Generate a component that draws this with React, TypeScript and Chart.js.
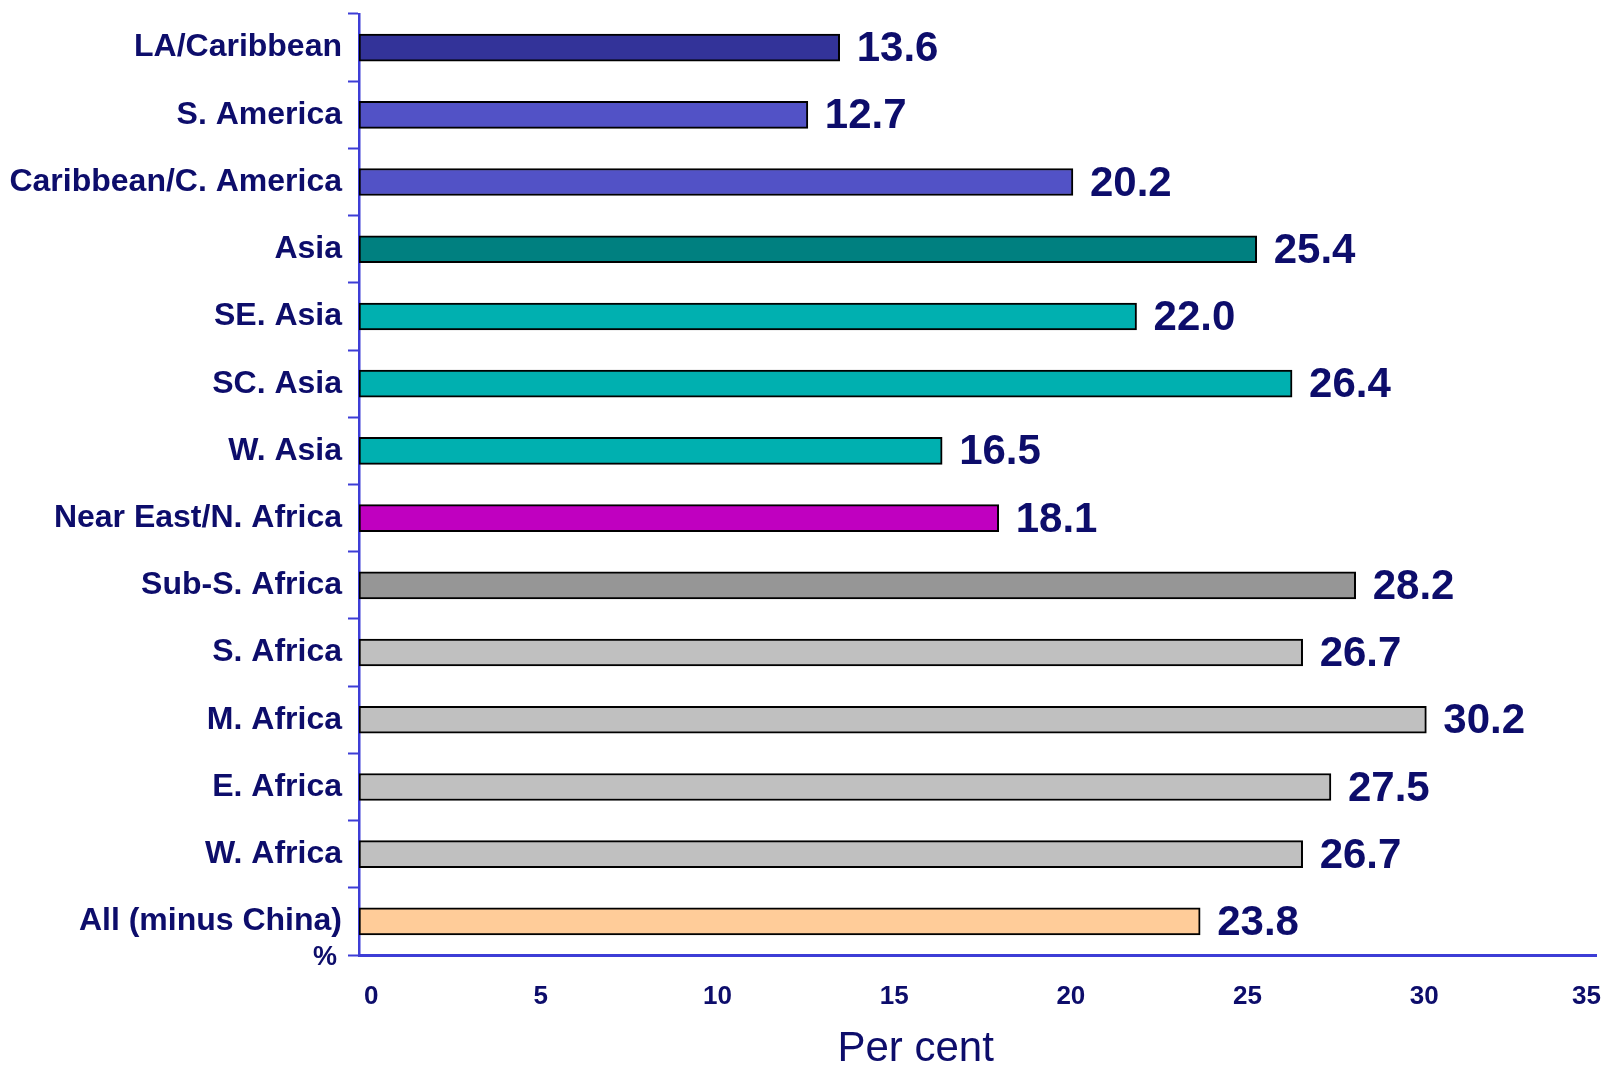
import React, { useEffect, useRef } from "react";
import { Chart, registerables } from "chart.js";

Chart.register(...registerables);

const categories = [
  "LA/Caribbean",
  "S. America",
  "Caribbean/C. America",
  "Asia",
  "SE. Asia",
  "SC. Asia",
  "W. Asia",
  "Near East/N. Africa",
  "Sub-S. Africa",
  "S. Africa",
  "M. Africa",
  "E. Africa",
  "W. Africa",
  "All (minus China)",
];

const values = [13.6, 12.7, 20.2, 25.4, 22.0, 26.4, 16.5, 18.1, 28.2, 26.7, 30.2, 27.5, 26.7, 23.8];

const barColors = [
  "#333399",
  "#5252C6",
  "#5252C6",
  "#008080",
  "#00B0B0",
  "#00B0B0",
  "#00B0B0",
  "#C000C0",
  "#969696",
  "#C0C0C0",
  "#C0C0C0",
  "#C0C0C0",
  "#C0C0C0",
  "#FFCC99",
];

const xMin = 0;
const xMax = 35;
const xStep = 5;
const xTitle = "Per cent";
const yUnit = "%";

const NAVY = "#0d0d6b";
const AXIS_BLUE = "#3d3dd6";
const FONT = "'Liberation Sans', Arial, Helvetica, sans-serif";

const labelPlugin = {
  id: "valueLabels",
  afterDatasetsDraw(chart: any) {
    const ctx = chart.ctx;
    const meta = chart.getDatasetMeta(0);
    ctx.save();
    ctx.fillStyle = NAVY;
    ctx.font = `bold 42px ${FONT}`;
    ctx.textAlign = "left";
    ctx.textBaseline = "middle";
    meta.data.forEach((bar: any, i: number) => {
      ctx.fillText(values[i].toFixed(1), bar.x + 17, bar.y + 2);
    });
    const { left, right, bottom } = chart.chartArea;
    ctx.font = `bold 27px ${FONT}`;
    ctx.textAlign = "center";
    ctx.fillText(yUnit, left - 34, bottom + 3);
    ctx.font = `42px ${FONT}`;
    ctx.fillText(xTitle, left + (right - left) * 0.45, bottom + 94);
    ctx.restore();
  },
};

export default function App() {
  const canvasRef = useRef<HTMLCanvasElement | null>(null);

  useEffect(() => {
    const canvas = canvasRef.current;
    if (!canvas) return;
    const chart = new Chart(canvas, {
      type: "bar",
      data: {
        labels: categories,
        datasets: [
          {
            data: values,
            backgroundColor: barColors,
            borderColor: "#000000",
            borderWidth: 2,
            borderSkipped: false,
            barThickness: 27,
          },
        ],
      },
      options: {
        indexAxis: "y",
        responsive: false,
        animation: false,
        layout: { padding: { top: 14, right: 6, left: 0, bottom: 0 } },
        plugins: {
          legend: { display: false },
          tooltip: { enabled: false },
          title: { display: false },
        },
        scales: {
          x: {
            type: "linear",
            min: xMin,
            max: xMax,
            ticks: {
              stepSize: xStep,
              color: NAVY,
              font: { family: FONT, size: 26, weight: "bold" },
              padding: 18,
              align: "inner",
              labelOffset: 5,
              maxRotation: 0,
            },
            grid: { display: false },
            border: { display: true, color: AXIS_BLUE, width: 3 },
            afterFit(scale: any) {
              scale.height = 110;
              scale.paddingLeft = 0;
              scale.paddingRight = 0;
            },
          },
          y: {
            type: "category",
            ticks: {
              color: NAVY,
              font: { family: FONT, size: 32, weight: "bold" },
              padding: 6,
              autoSkip: false,
            },
            grid: {
              display: true,
              drawOnChartArea: false,
              drawTicks: true,
              tickLength: 11,
              tickWidth: 2,
              tickColor: AXIS_BLUE,
              color: AXIS_BLUE,
              offset: true,
            },
            border: { display: true, color: AXIS_BLUE, width: 2.5 },
            afterFit(scale: any) {
              scale.width = 359;
              scale.paddingTop = 0;
              scale.paddingBottom = 0;
            },
          },
        },
      },
      plugins: [labelPlugin],
    } as any);
    return () => chart.destroy();
  }, []);

  return (
    <div style={{ position: "absolute", left: 0, top: 0, width: 1602, height: 1065, background: "#ffffff" }}>
      <canvas ref={canvasRef} width={1602} height={1065} style={{ display: "block" }} />
    </div>
  );
}
